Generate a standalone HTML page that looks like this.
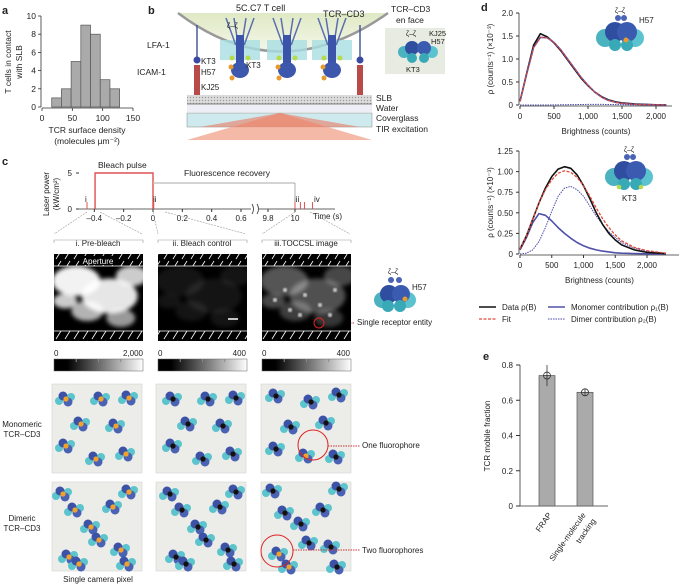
<!DOCTYPE html>
<html><head><meta charset="utf-8"><style>
html,body{margin:0;padding:0;background:#fff;}
svg{display:block;font-family:"Liberation Sans",sans-serif;}
text{fill:#222;}
</style></head><body>
<svg id="fig" width="685" height="584" viewBox="0 0 685 584" xmlns="http://www.w3.org/2000/svg">
<defs>
<filter id="blur2"><feGaussianBlur stdDeviation="2.2"/></filter>
<filter id="blur1"><feGaussianBlur stdDeviation="1"/></filter>
<linearGradient id="cbar" x1="0" x2="1"><stop offset="0" stop-color="#000"/><stop offset="0.15" stop-color="#000"/><stop offset="1" stop-color="#fff"/></linearGradient>
<linearGradient id="cell" x1="0" x2="0" y1="0" y2="1"><stop offset="0" stop-color="#dfe9c4"/><stop offset="1" stop-color="#f4f7ea"/></linearGradient>
<pattern id="hatch" width="9" height="10" patternUnits="userSpaceOnUse"><rect width="9" height="10" fill="#000"/><line x1="2" y1="9" x2="7" y2="1" stroke="#fff" stroke-width="0.8"/></pattern>
<pattern id="slb" width="3" height="3" patternUnits="userSpaceOnUse"><rect width="3" height="3" fill="#ddd"/><circle cx="1.5" cy="1.5" r="0.7" fill="#999"/></pattern>
</defs>

<text x="2" y="14" font-size="11" font-weight="bold">a</text>
<text x="148" y="14" font-size="11" font-weight="bold">b</text>
<text x="2" y="165" font-size="11" font-weight="bold">c</text>
<text x="481" y="11" font-size="11" font-weight="bold">d</text>
<text x="483" y="360" font-size="11" font-weight="bold">e</text>

<g id="panelA"></g>

<g>
<path d="M178,13 Q280,90 388,13 Z" fill="url(#cell)"/>
<path d="M178,13 Q280,90 388,13" fill="none" stroke="#999" stroke-width="2.5"/>
<text x="236" y="11" font-size="9">5C.C7 T cell</text>
<text x="323" y="17" font-size="9">TCR–CD3</text>
<text x="147" y="48" font-size="8.5">LFA-1</text>
<text x="137" y="75" font-size="8.5">ICAM-1</text>
<line x1="197" y1="25" x2="197" y2="58" stroke="#4a5a9a" stroke-width="1.5"/>
<circle cx="197" cy="60" r="3.5" fill="#3a4aa0"/>
<rect x="194" y="65" width="6" height="30" fill="#b84a4a"/>
<line x1="360" y1="25" x2="360" y2="58" stroke="#4a5a9a" stroke-width="1.5"/>
<circle cx="360" cy="60" r="3.5" fill="#3a4aa0"/>
<rect x="357" y="65" width="6" height="30" fill="#b84a4a"/>
<g id="tcrs"></g>
<text x="201" y="64" font-size="8">KT3</text><text x="201" y="75" font-size="8">H57</text><text x="201" y="90" font-size="8">KJ25</text>
<text x="246" y="68" font-size="8">KT3</text>
<rect x="187" y="95" width="185" height="9" fill="url(#slb)"/>
<line x1="187" y1="104" x2="372" y2="104" stroke="#777"/>
<rect x="187" y="105" width="185" height="7" fill="#eeeef7"/>
<rect x="187" y="113" width="185" height="14" fill="#cfeaee" stroke="#888" stroke-width="0.5"/>
<path d="M187,140 L280,113 L372,140 Z" fill="#f3a891" opacity="0.8"/>
<path d="M200,127 L280,113 L360,127 Z" fill="#e97a60" opacity="0.6"/>
<text x="376" y="101" font-size="8.5">SLB</text>
<text x="376" y="111" font-size="8.5">Water</text>
<text x="376" y="121" font-size="8.5">Coverglass</text>
<text x="376" y="132" font-size="8.5">TIR excitation</text>
<text x="391" y="12" font-size="8.5">TCR–CD3</text>
<text x="396" y="23" font-size="8.5">en face</text>
<rect x="385" y="28" width="60" height="46" fill="#e8ebe2"/>
<circle cx="404" cy="52" r="6" fill="#4ab3bf"/><circle cx="432" cy="52" r="6" fill="#5bc3cf"/>
<circle cx="412" cy="48" r="7" fill="#2f4ea0"/><circle cx="424" cy="48" r="7" fill="#3a5bb0"/>
<circle cx="412" cy="58" r="5" fill="#38a9b6"/><circle cx="424" cy="58" r="5" fill="#38a9b6"/>
<text x="406" y="36" font-size="7">ζ–ζ</text><text x="429" y="36" font-size="7.5">KJ25</text><text x="431" y="44" font-size="7.5">H57</text><text x="406" y="72" font-size="7.5">KT3</text>
</g>

<g id="panelC">
<text transform="translate(49,194) rotate(-90)" text-anchor="middle" font-size="8">Laser power</text>
<text transform="translate(59,194) rotate(-90)" text-anchor="middle" font-size="8">(kW/cm²)</text>
<text x="72" y="176" font-size="8" text-anchor="end">5</text>
<text x="72" y="212" font-size="8" text-anchor="end">0</text>
<text x="98" y="168" font-size="8.5">Bleach pulse</text>
<text x="184" y="176" font-size="8.5">Fluorescence recovery</text>
<text x="313" y="219" font-size="8">Time (s)</text>
<text x="85" y="202" font-size="8">i</text><text x="153" y="202" font-size="8">ii</text><text x="294" y="202" font-size="8">iii</text><text x="314" y="202" font-size="8">iv</text>
</g>

<g id="images">
<text x="98" y="246" font-size="8" text-anchor="middle">i. Pre-bleach</text>
<text x="202" y="246" font-size="8" text-anchor="middle">ii. Bleach control</text>
<text x="306" y="246" font-size="8" text-anchor="middle">iii.TOCCSL image</text>
<text x="357" y="325" font-size="8">Single receptor entity</text>
<line x1="325" y1="323" x2="354" y2="323" stroke="#c33" stroke-dasharray="1.5,1"/>
<text x="54" y="356" font-size="8">0</text><text x="143" y="356" font-size="8" text-anchor="end">2,000</text>
<text x="158" y="356" font-size="8">0</text><text x="246" y="356" font-size="8" text-anchor="end">400</text>
<text x="262" y="356" font-size="8">0</text><text x="350" y="356" font-size="8" text-anchor="end">400</text>
</g>

<g id="schem">
<text x="22" y="427" font-size="8" text-anchor="middle">Monomeric</text>
<text x="22" y="437" font-size="8" text-anchor="middle">TCR–CD3</text>
<text x="22" y="521" font-size="8" text-anchor="middle">Dimeric</text>
<text x="22" y="531" font-size="8" text-anchor="middle">TCR–CD3</text>
<text x="98" y="582" font-size="8" text-anchor="middle">Single camera pixel</text>
<text x="362" y="448" font-size="8">One fluorophore</text>
<text x="362" y="553" font-size="8">Two fluorophores</text>
</g>

<g id="panelD1"></g>
<g id="panelD2"></g>
<g id="panelE"></g>
</svg>

<script>
const histBinStart = [16, 32, 48, 64, 80, 96, 112];
const histBinWidth = 16;
const histCounts = [1, 2, 5, 9, 8, 3, 2];
const histXTicks = [0, 50, 100, 150];
const histYTicks = [0, 2, 4, 6, 8, 10];

const brightX1 = [0,100,200,300,400,500,600,700,800,900,1000,1100,1200,1300,1400,1500,1700,2000,2150];
const dataTop  = [0.08,0.7,1.3,1.55,1.48,1.35,1.18,0.98,0.78,0.58,0.42,0.28,0.18,0.11,0.07,0.045,0.02,0.005,0.003];
const fitTop   = [0.08,0.68,1.25,1.47,1.46,1.36,1.2,1.0,0.8,0.6,0.43,0.28,0.17,0.1,0.06,0.035,0.012,0.003,0.002];
const dimerTop = [0,0,0,0,0,0.002,0.004,0.006,0.008,0.01,0.012,0.012,0.012,0.01,0.008,0.006,0.003,0.001,0];
const dTopXTicks = [0,500,1000,1500,2000];
const dTopYTicks = [0,0.5,1.0,1.5,2.0];

const brightX2 = [0,100,200,300,400,500,600,700,800,900,1000,1100,1200,1300,1400,1500,1600,1800,2000,2300];
const dataBot  = [0.06,0.22,0.42,0.62,0.8,0.94,1.03,1.06,1.04,0.96,0.83,0.67,0.5,0.36,0.25,0.17,0.11,0.05,0.02,0.005];
const fitBot   = [0.06,0.22,0.42,0.62,0.78,0.9,0.98,1.01,0.99,0.93,0.83,0.7,0.56,0.43,0.32,0.23,0.16,0.08,0.04,0.01];
const monoBot  = [0.05,0.2,0.38,0.49,0.47,0.4,0.32,0.25,0.19,0.14,0.1,0.07,0.05,0.035,0.025,0.015,0.01,0.005,0.002,0];
const dimerBot = [0,0.01,0.05,0.15,0.32,0.52,0.7,0.8,0.82,0.78,0.7,0.58,0.46,0.36,0.27,0.2,0.14,0.07,0.03,0.01];
const dBotXTicks = [0,500,1000,1500,2000];
const dBotYTicks = [0,0.25,0.5,0.75,1.0,1.25];
const dBotYLabels = ["0","0.25","0.50","0.75","1.00","1.25"];

const eCategories = ["FRAP","Single-molecule tracking"];
const eValues = [0.74, 0.645];
const eErrors = [0.06, 0.02];
const eYTicks = [0,0.2,0.4,0.6,0.8];

const tlTicks = [-0.4,-0.2,0,0.2,0.4,0.6];
const tlTicks2 = [9.8,10];

const NS="http://www.w3.org/2000/svg";
function mk(tag, attrs, parent){const e=document.createElementNS(NS,tag);for(const k in attrs)e.setAttribute(k,attrs[k]);parent.appendChild(e);return e;}
function txt(s, attrs, parent){const e=mk('text',attrs,parent);e.textContent=String(s);return e;}

(function(){
 const g=document.getElementById('panelA');
 const x=v=>42+v*(133-42)/150, y=v=>107-v*(107-16)/10;
 for(let i=0;i<histCounts.length;i++){
  const r=mk('rect',{x:x(histBinStart[i]),y:y(histCounts[i]),width:x(histBinStart[i]+histBinWidth)-x(histBinStart[i]),height:y(0)-y(histCounts[i]),fill:'#aaa',stroke:'#555','stroke-width':0.7},g);
  
  
 }
 mk('line',{x1:x(0),x2:x(150),y1:108,y2:108,stroke:'#333','stroke-width':0.8},g);
 mk('line',{x1:41,x2:41,y1:y(0),y2:y(10),stroke:'#333','stroke-width':0.8},g);
 histXTicks.forEach(t=>{mk('line',{x1:x(t),x2:x(t),y1:108,y2:111,stroke:'#333','stroke-width':0.8},g);txt(t,{x:x(t),y:121,'font-size':8.5,'text-anchor':'middle'},g);});
 histYTicks.forEach(t=>{mk('line',{x1:38,x2:41,y1:y(t),y2:y(t),stroke:'#333','stroke-width':0.8},g);txt(t,{x:36,y:y(t)+3,'font-size':8.5,'text-anchor':'end'},g);});
 txt('TCR surface density',{x:87,y:133,'font-size':8.5,'text-anchor':'middle'},g);
 txt('(molecules µm⁻²)',{x:87,y:144,'font-size':8.5,'text-anchor':'middle'},g);
 txt('T cells in contact',{transform:'translate(11,62) rotate(-90)','font-size':8.5,'text-anchor':'middle'},g);
 txt('with SLB',{transform:'translate(22,62) rotate(-90)','font-size':8.5,'text-anchor':'middle'},g);
})();

(function(){
 const g=document.getElementById('tcrs');
 [240,287,332].forEach(cx=>{
  mk('rect',{x:cx-20,y:40,width:40,height:20,fill:'#a8dde2',opacity:0.8},g);
  [-14,-6,6,14].forEach(d=>mk('line',{x1:cx+d,y1:18,x2:cx+d*0.3,y2:45,stroke:'#5b6fae','stroke-width':1.5},g));
  mk('rect',{x:cx-4,y:35,width:8,height:30,fill:'#3b53a8'},g);
  mk('ellipse',{cx:cx,cy:70,rx:9,ry:8,fill:'#3d57ad'},g);
  mk('circle',{cx:cx-8,cy:58,r:2.5,fill:'#b8d94a'},g);
  mk('circle',{cx:cx+8,cy:58,r:2.5,fill:'#b8d94a'},g);
  mk('circle',{cx:cx-9,cy:67,r:2.5,fill:'#e89a2f'},g);
  mk('circle',{cx:cx-8,cy:78,r:2.5,fill:'#e89a2f'},g);
 });
 txt('ζ–ζ',{x:227,y:28,'font-size':7.5},g);
})();

(function(){
 const g=document.getElementById('panelC');
 const x=v=>153+v*(241-153)/0.6, x2=v=>295+(v-10)*(295-268)/0.2;
 const y=v=>209-v*(209-173)/5;
 mk('line',{x1:79,x2:335,y1:209,y2:209,stroke:'#333','stroke-width':0.8},g);
 mk('line',{x1:76,x2:79,y1:y(5),y2:y(5),stroke:'#333'},g);
 mk('line',{x1:76,x2:79,y1:y(0),y2:y(0),stroke:'#333'},g);
 tlTicks.forEach(t=>{mk('line',{x1:x(t),x2:x(t),y1:209,y2:212,stroke:'#333'},g);txt(t<0?'–'+Math.abs(t):String(t),{x:x(t),y:221,'font-size':8,'text-anchor':'middle'},g);});
 tlTicks2.forEach(t=>{mk('line',{x1:x2(t),x2:x2(t),y1:209,y2:212,stroke:'#333'},g);txt(String(t),{x:x2(t),y:221,'font-size':8,'text-anchor':'middle'},g);});
 mk('rect',{x:251,y:204,width:8,height:10,fill:'#fff'},g);
 mk('path',{d:'M252,214 q3,-5 0,-10 M257,214 q3,-5 0,-10',fill:'none',stroke:'#333','stroke-width':0.8},g);
 mk('path',{d:`M${x(-0.395)},209 V${y(5)} H${x(0)} V209`,fill:'none',stroke:'#e05050','stroke-width':1.4},g);
 mk('line',{x1:x(0),x2:x2(10),y1:183,y2:183,stroke:'#bbb','stroke-width':1.2},g);
 mk('line',{x1:x2(10),x2:x2(10),y1:183,y2:209,stroke:'#999','stroke-width':0.8},g);
 [x(-0.45),x(0.005),x2(10),x2(10.04),x2(10.07),x2(10.13)].forEach(px=>mk('line',{x1:px,x2:px,y1:202,y2:209,stroke:'#e05050','stroke-width':1},g));
 [[87,54],[100,142],[153,158],[165,246],[295,262],[310,350]].forEach(p=>mk('line',{x1:p[0],y1:212,x2:p[1],y2:234,stroke:'#999','stroke-width':0.6,'stroke-dasharray':'2,1'},g));
})();

(function(){
 const g=document.getElementById('images');
 const X=[54,158,262], W=89;
 const blobs=[[20,15,30,0.95],[50,30,35,0.9],[70,10,20,0.8],[30,45,20,0.7],[60,52,18,0.6],[10,35,15,0.8]];
 X.forEach((x0,k)=>{
  mk('path',{d:`M${x0},243 v-3 h${W} v3`,fill:'none',stroke:'#999','stroke-width':0.6},g);
  mk('rect',{x:x0,y:254,width:W,height:86,fill:'#000'},g);
  const cg=mk('g',{filter:'url(#blur2)'},g);
  blobs.forEach(b=>{
   const op=k==0?b[3]:k==1?0.08:b[3]*0.35;
   mk('ellipse',{cx:x0+b[0]*W/80,cy:266+b[1],rx:b[2]*0.8,ry:b[2]*0.5,fill:'#fff',opacity:op},cg);
  });
  mk('rect',{x:x0,y:254,width:W,height:12,fill:'url(#hatch)'},g);
  mk('rect',{x:x0,y:331,width:W,height:10,fill:'url(#hatch)'},g);
  mk('line',{x1:x0,x2:x0+W,y1:266,y2:266,stroke:'#fff','stroke-width':0.8},g);
  mk('line',{x1:x0,x2:x0+W,y1:331,y2:331,stroke:'#fff','stroke-width':0.8},g);
  mk('rect',{x:x0,y:359,width:W,height:12,fill:'url(#cbar)',stroke:'#666','stroke-width':0.5},g);
  [0.25,0.5,0.75].forEach(f=>mk('line',{x1:x0+f*W,x2:x0+f*W,y1:359,y2:362,stroke:'#888'},g));
 });
 const ab=mk('rect',{x:82,y:256,width:34,height:9,fill:'#000'},g);
 const a=txt('Aperture',{x:98,y:264,'font-size':8,'text-anchor':'middle'},g);a.style.fill='#fff';
 mk('line',{x1:228,x2:238,y1:319,y2:319,stroke:'#fff','stroke-width':1.5},g);
 [[275,300],[290,310],[305,295],[320,305],[335,290],[300,315],[285,290],[330,315]].forEach(p=>mk('circle',{cx:p[0],cy:p[1],r:2,fill:'#ddd',filter:'url(#blur1)'},g));
 mk('circle',{cx:319,cy:323,r:5,fill:'none',stroke:'#d22','stroke-width':1},g);
 const ins=mk('g',{},g);
 mk('circle',{cx:382,cy:300,r:8,fill:'#4ab3bf'},ins);mk('circle',{cx:408,cy:300,r:8,fill:'#5bc3cf'},ins);
 mk('circle',{cx:389,cy:294,r:9,fill:'#2f4ea0'},ins);mk('circle',{cx:401,cy:294,r:9,fill:'#3a5bb0'},ins);
 mk('circle',{cx:388,cy:306,r:6,fill:'#38a9b6'},ins);mk('circle',{cx:400,cy:306,r:6,fill:'#38a9b6'},ins);
 mk('circle',{cx:391,cy:280,r:3,fill:'#4b63b5'},ins);mk('circle',{cx:399,cy:280,r:3,fill:'#4b63b5'},ins);
 mk('circle',{cx:405,cy:299,r:2.5,fill:'#e89a2f'},ins);
 txt('ζ–ζ',{x:388,y:274,'font-size':7},ins);txt('H57',{x:412,y:290,'font-size':8},ins);
})();

(function(){
 const g=document.getElementById('schem');
 const X=[52,156,261], W=90;
 const rows=[[384,89],[482,89]];
 const mono=[[15,15],[50,15],[78,14],[30,40],[65,42],[15,62],[45,75],[75,70]];
 const dim=[[12,12],[24,28],[78,10],[62,25],[40,45],[48,58],[18,75],[28,82],[70,68],[76,82]];
 rows.forEach((r,ri)=>X.forEach((x0,k)=>{
  mk('rect',{x:x0,y:r[0],width:W,height:r[1],fill:'#ecede8',stroke:'#ccc','stroke-width':0.5},g);
  (ri==0?mono:dim).forEach((p,i)=>{
   const cx=x0+p[0]+(k*3%5)-2, cy=r[0]+p[1]+(k==2?(i%2?3:-3):0);
   mk('circle',{cx:cx-6,cy:cy+2,r:4,fill:'#5cc4cc'},g);
   mk('circle',{cx:cx+6,cy:cy-2,r:4,fill:'#5cc4cc'},g);
   mk('circle',{cx:cx-2,cy:cy-3,r:4.5,fill:'#3b52a6'},g);
   mk('circle',{cx:cx+3,cy:cy+3,r:4.5,fill:'#4962b4'},g);
   const orange = k==0 || (k==2 && ((ri==0&&i==6)||(ri==1&&(i==6||i==7))));
   mk('circle',{cx:cx+1,cy:cy,r:2.6,fill:orange?'#f0a22a':'#111',stroke:orange?'none':'#333','stroke-width':0.5},g);
  });
 }));
 mk('circle',{cx:313,cy:445,r:15,fill:'none',stroke:'#d22','stroke-width':1},g);
 mk('line',{x1:328,x2:360,y1:446,y2:446,stroke:'#c33','stroke-dasharray':'1.5,1'},g);
 mk('circle',{cx:277,cy:551,r:16,fill:'none',stroke:'#d22','stroke-width':1},g);
 mk('line',{x1:293,x2:360,y1:550,y2:550,stroke:'#c33','stroke-dasharray':'1.5,1'},g);
})();

function lineChart(gid, xs, series, x0, x1, xmax, y0, yTop, ymax, xt, yt, ytl, axisEnd){
 const g=document.getElementById(gid);
 const x=v=>x0+v*(x1-x0)/xmax, y=v=>y0-v*(y0-yTop)/ymax;
 mk('line',{x1:x(0),x2:axisEnd,y1:y0+1,y2:y0+1,stroke:'#333','stroke-width':0.8},g);
 mk('line',{x1:x0-1,x2:x0-1,y1:y0,y2:yTop,stroke:'#333','stroke-width':0.8},g);
 xt.forEach(t=>{mk('line',{x1:x(t),x2:x(t),y1:y0+1,y2:y0+4,stroke:'#333'},g);txt(t>=1000?t.toLocaleString('en-US'):String(t),{x:x(t),y:y0+14,'font-size':8,'text-anchor':'middle'},g);});
 yt.forEach((t,i)=>{mk('line',{x1:x0-4,x2:x0-1,y1:y(t),y2:y(t),stroke:'#333'},g);txt(ytl[i],{x:x0-7,y:y(t)+3,'font-size':8,'text-anchor':'end'},g);});
 series.forEach(s=>{
  const d=s.v.map((v,i)=>(i?'L':'M')+x(xs[i]).toFixed(1)+','+y(v).toFixed(1)).join(' ');
  const p=mk('path',{d:d,fill:'none',stroke:s.c,'stroke-width':s.w,'stroke-dasharray':s.dash||'none','stroke-linejoin':'round'},g);
  
  
 });
 txt('Brightness (counts)',{x:(x0+axisEnd)/2,y:y0+29,'font-size':8,'text-anchor':'middle'},g);
 txt('ρ (counts⁻¹) (×10⁻³)',{transform:`translate(${x0-27},${(y0+yTop)/2}) rotate(-90)`,'font-size':8,'text-anchor':'middle'},g);
 return g;
}
const gD1=lineChart('panelD1',brightX1,[
 {v:dimerTop,c:'#4a4aa8',w:1,dash:'1.5,1',name:'dimer-line'},
 {v:dataTop,c:'#111',w:1.6,name:'data-line'},
 {v:fitTop,c:'#4a4aa8',w:1.5,name:'monomer-line'},
 {v:fitTop,c:'#e04a3a',w:1.2,dash:'3,1.5',name:'fit-line'}],
 520,656,2000,105,13,2.0,dTopXTicks,dTopYTicks,["0","0.5","1.0","1.5","2.0"],672);
const gD2=lineChart('panelD2',brightX2,[
 {v:dimerBot,c:'#4a4aa8',w:1,dash:'1.5,1',name:'dimer-line'},
 {v:monoBot,c:'#5050a8',w:1.6,name:'monomer-line'},
 {v:dataBot,c:'#111',w:1.6,name:'data-line'},
 {v:fitBot,c:'#e04a3a',w:1.3,dash:'3,1.5',name:'fit-line'}],
 520,647,2000,254,151,1.25,dBotXTicks,dBotYTicks,dBotYLabels,679);
[[gD1,621,36,true],[gD2,630,175,false]].forEach(a=>{
 const g=a[0],cx=a[1],cy=a[2];
 mk('circle',{cx:cx-16,cy:cy+2,r:9,fill:'#4ab3bf'},g);mk('circle',{cx:cx+14,cy:cy+2,r:9,fill:'#5bc3cf'},g);
 mk('circle',{cx:cx-6,cy:cy-4,r:10,fill:'#2f4ea0'},g);mk('circle',{cx:cx+6,cy:cy-4,r:10,fill:'#3a5bb0'},g);
 mk('circle',{cx:cx-6,cy:cy+9,r:6,fill:'#38a9b6'},g);mk('circle',{cx:cx+6,cy:cy+9,r:6,fill:'#38a9b6'},g);
 mk('circle',{cx:cx-3,cy:cy-18,r:3,fill:'#4b63b5'},g);mk('circle',{cx:cx+3,cy:cy-18,r:3,fill:'#4b63b5'},g);
 txt('ζ–ζ',{x:cx-6,y:cy-23,'font-size':7},g);
 if(a[3]){mk('circle',{cx:cx+5,cy:cy+4,r:2.5,fill:'#e89a2f'},g);txt('H57',{x:cx+18,y:cy-13,'font-size':8},g);}
 else{mk('circle',{cx:cx-11,cy:cy+12,r:2.3,fill:'#b8d94a'},g);mk('circle',{cx:cx+11,cy:cy+12,r:2.3,fill:'#b8d94a'},g);txt('KT3',{x:cx-8,y:cy+26,'font-size':8},g);}
});
(function(){
 const g=gD2;
 const L=[[479,310,'#111','none',1.6,'Data ρ(B)'],[479,322,'#e04a3a','3,1.5',1.3,'Fit'],[548,310,'#5050a8','none',1.6,'Monomer contribution ρ₁(B)'],[548,322,'#4a4aa8','1.5,1',1,'Dimer contribution ρ₂(B)']];
 L.forEach(l=>{
  const e=mk('g',{},g);
  
  
  mk('line',{x1:l[0],x2:l[0]+17,y1:l[1]-3,y2:l[1]-3,stroke:l[2],'stroke-dasharray':l[3],'stroke-width':l[4]},e);
  txt(l[5],{x:l[0]+23,y:l[1],'font-size':8},e);
 });
})();

(function(){
 const g=document.getElementById('panelE');
 const y=v=>506-v*(506-365)/0.8;
 const bx=[539,577], bw=16;
 mk('line',{x1:520,x2:520,y1:y(0),y2:y(0.8),stroke:'#333','stroke-width':0.8},g);
 mk('line',{x1:520,x2:608,y1:506,y2:506,stroke:'#333','stroke-width':0.8},g);
 eYTicks.forEach(t=>{mk('line',{x1:516,x2:520,y1:y(t),y2:y(t),stroke:'#333'},g);txt(t===0?'0':t.toFixed(1),{x:513,y:y(t)+3,'font-size':8,'text-anchor':'end'},g);});
 eValues.forEach((v,i)=>{
  const r=mk('rect',{x:bx[i],y:y(v),width:bw,height:y(0)-y(v),fill:'#aaa',stroke:'#555','stroke-width':0.7},g);
  
  
  const c=bx[i]+bw/2;
  mk('line',{x1:c,x2:c,y1:y(v+eErrors[i]),y2:y(v-eErrors[i]),stroke:'#333','stroke-width':0.8},g);
  mk('circle',{cx:c,cy:y(v),r:3.5,fill:'none',stroke:'#333','stroke-width':0.8},g);
  mk('line',{x1:c-3.5,x2:c+3.5,y1:y(v),y2:y(v),stroke:'#333','stroke-width':0.6},g);
 });
 txt('FRAP',{transform:'translate(552,515) rotate(-55)','font-size':8,'text-anchor':'end'},g);
 txt('Single-molecule',{transform:'translate(586,515) rotate(-55)','font-size':8,'text-anchor':'end'},g);
 txt('tracking',{transform:'translate(596,521) rotate(-55)','font-size':8,'text-anchor':'end'},g);
 txt('TCR mobile fraction',{transform:'translate(490,436) rotate(-90)','font-size':8,'text-anchor':'middle'},g);
})();
</script>
</body></html>
